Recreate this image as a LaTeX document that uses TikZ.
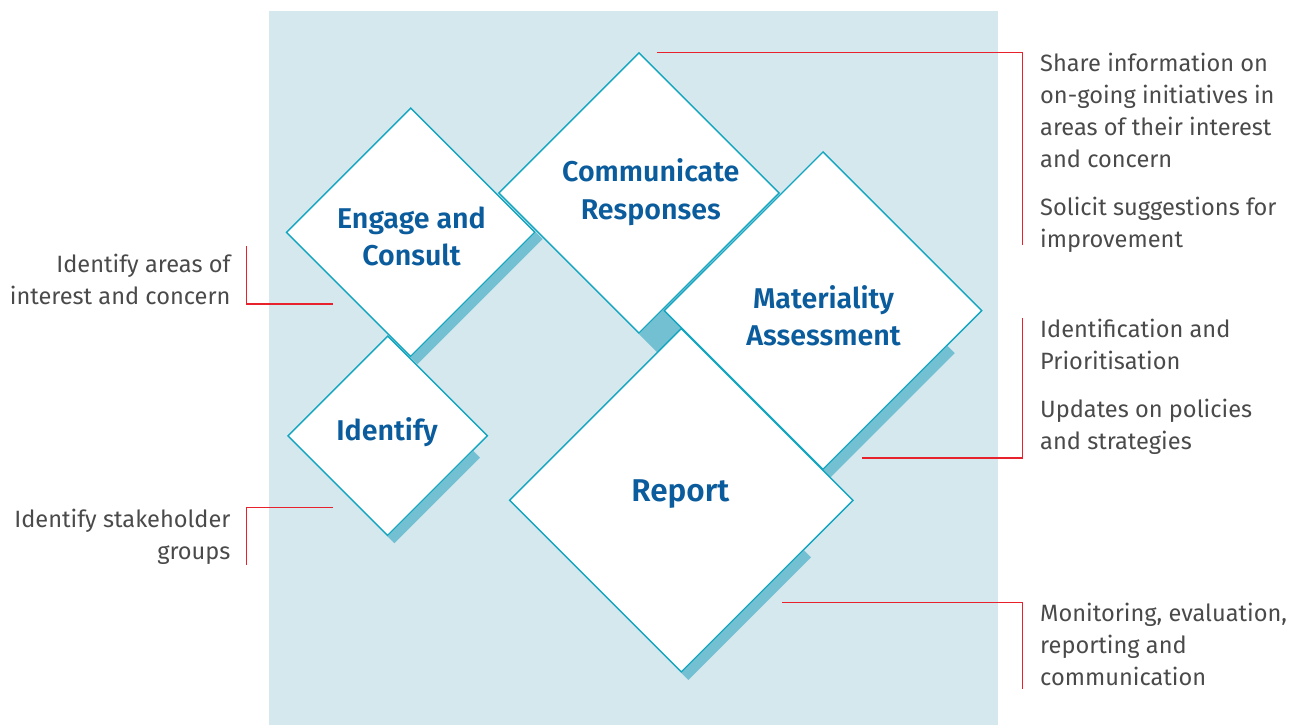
\documentclass[tikz,border=0pt]{standalone}
\usepackage{fontspec}
\setmainfont{Fira Sans}
\newfontfamily\labelfont{Fira Sans SemiBold}
\usetikzlibrary{shapes.geometric,calc}
\definecolor{bgblue}{HTML}{D5E8EE}
\definecolor{edgec}{HTML}{12A5BF}
\definecolor{shadowc}{HTML}{74C0D3}
\definecolor{lblue}{HTML}{0B5C9C}
\definecolor{txtgray}{HTML}{4A4A4A}
\definecolor{bracketc}{HTML}{E8222D}
\newcommand\txtl[1]{\begin{tabular}[t]{@{}l@{}}#1\end{tabular}}
\newcommand\txtr[1]{\begin{tabular}[t]{@{}r@{}}#1\end{tabular}}
\newcommand\txtc[1]{\begin{tabular}[t]{@{}c@{}}#1\end{tabular}}
\tikzset{
  dia/.style={shape=diamond, shape aspect=1, draw=edgec, fill=white, line width=1.4pt, inner sep=0pt, minimum size=#1},
  lab/.style={anchor=base, inner sep=0pt, text=lblue, font=\labelfont\fontsize{28.6}{37.3}\selectfont},
  side/.style={inner sep=0pt, text=txtgray, font=\fontsize{23.6}{32}\selectfont},
  brk/.style={draw=bracketc, line width=1.2pt},
  shad/.style={fill=shadowc}
}
\begin{document}
\begin{tikzpicture}[x=1pt,y=-1pt]
\useasboundingbox (0,0) rectangle (1305,725);
\fill[bgblue] (269,11) rectangle (998,725);

% Communicate Responses
\node[dia=281pt] (com) at (639,193) {};
\fill[shad] ($(com.east)!0.5!(com.south)$) -- (com.south) -- ++(21,21) -- ($($(com.east)!0.5!(com.south)$)+(21,21)$) -- cycle;
% Engage and Consult
\node[dia=249pt] (eng) at (410.7,232.3) {};
\fill[shad] (eng.east) -- (eng.south) -- ++(6.7,6.7) -- ($(eng.east)+(6.7,6.7)$) -- cycle;
% Identify
\node[dia=200pt] (idf) at (387.7,435.8) {};
\fill[shad] ($(idf.east)!0.15!(idf.south)$) -- (idf.south) -- ++(6.7,6.7) -- ($($(idf.east)!0.15!(idf.south)$)+(6.7,6.7)$) -- cycle;
% Materiality Assessment
\node[dia=318pt] (mat) at (823,310.7) {};
\fill[shad] ($(mat.east)!0.22!(mat.south)$) -- (mat.south) -- ++(7.2,7.2) -- ($($(mat.east)!0.22!(mat.south)$)+(7.2,7.2)$) -- cycle;
% Report
\node[dia=344pt] (rep) at (681.3,500.3) {};
\fill[shad] ($(rep.east)!0.29!(rep.south)$) -- (rep.south) -- ++(7,7) -- ($($(rep.east)!0.29!(rep.south)$)+(7,7)$) -- cycle;

% labels
\node[lab] (comL) at (650.8,181.7) {\txtc{Communicate\\Responses}};
\node[lab] (engL) at (411.5,228.3) {\txtc{Engage and\\Consult}};
\node[lab] (idfL) at (387,440.7) {Identify};
\node[lab] (matL) at (823.5,308.3) {\txtc{Materiality\\Assessment}};
\node[lab, font=\labelfont\fontsize{31.5}{37.3}\selectfont] (repL) at (680.3,501) {Report};

% side texts
\node[side, anchor=base west] (t1) at (1040,71) {\txtl{Share information on\\on-going initiatives in\\areas of their interest\\and concern}};
\node[side, anchor=base west] (t2) at (1040,215) {\txtl{Solicit suggestions for\\improvement}};
\node[side, anchor=base west] (t3) at (1040,337.3) {\txtl{Identification and\\Prioritisation}};
\node[side, anchor=base west] (t4) at (1040,417.3) {\txtl{Updates on policies\\and strategies}};
\node[side, anchor=base west] (t5) at (1040,621.7) {\txtl{Monitoring, evaluation,\\reporting and\\communication}};
\node[side, anchor=base east] (t6) at (230.7,272.8) {\txtr{Identify areas of\\interest and concern}};
\node[side, anchor=base east] (t7) at (230.7,527.3) {\txtr{Identify stakeholder\\groups}};

% brackets
\coordinate (b1a) at (657,52.3);
\coordinate (b1b) at (1022.3,52.3);
\coordinate (b1c) at (1022.3,245);
\draw[brk] (b1a) -- (b1b) -- (b1c);
\coordinate (b2a) at (1022.3,318.3);
\coordinate (b2b) at (1022.3,458);
\coordinate (b2c) at (862,458);
\draw[brk] (b2a) -- (b2b) -- (b2c);
\coordinate (b3a) at (782,602.7);
\coordinate (b3b) at (1022.3,602.7);
\coordinate (b3c) at (1022.3,689.3);
\draw[brk] (b3a) -- (b3b) -- (b3c);
\coordinate (b4a) at (246.3,246);
\coordinate (b4b) at (246.3,304);
\coordinate (b4c) at (333,304);
\draw[brk] (b4a) -- (b4b) -- (b4c);
\coordinate (b5a) at (333,507.7);
\coordinate (b5b) at (246.3,507.7);
\coordinate (b5c) at (246.3,565);
\draw[brk] (b5a) -- (b5b) -- (b5c);
\end{tikzpicture}
\end{document}
